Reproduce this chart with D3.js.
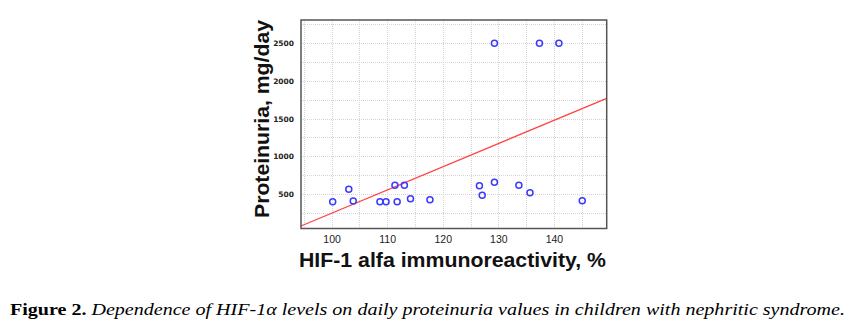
<!DOCTYPE html>
<html>
<head>
<meta charset="utf-8">
<script src="https://cdn.jsdelivr.net/npm/d3@7"></script>
<style>
  html, body { margin: 0; padding: 0; background: #fff; }
  svg { display: block; }
</style>
</head>
<body>
<svg id="chart" width="858" height="332"></svg>
<script>
// ---- data ----
const hifValues = [100.2, 103.1, 103.9, 108.7, 109.8, 111.4, 111.8, 113.1, 114.2, 117.7,
                   126.6, 127.1, 129.3, 133.7, 135.7, 145.1, 129.3, 137.4, 140.9];
const proteinuriaValues = [398, 563, 407, 398, 398, 616, 398, 616, 438, 425,
                           610, 483, 656, 616, 518, 411, 2500, 2500, 2500];
const fitLineX = [94.5, 149.5];
const fitLineY = [75, 1770];
const xTickLabels = [100, 110, 120, 130, 140];
const yTickLabels = [500, 1000, 1500, 2000, 2500];
const xGridValues = [95, 100, 105, 110, 115, 120, 125, 130, 135, 140, 145];
const yGridValues = [250, 500, 750, 1000, 1250, 1500, 1750, 2000, 2250, 2500, 2750];
const xAxisTitle = "HIF-1 alfa immunoreactivity, %";
const yAxisTitle = "Proteinuria, mg/day";
const captionBold = "Figure 2.";
const captionItalic = " Dependence of HIF-1α levels on daily proteinuria values in children with nephritic syndrome.";

// ---- layout ----
const svg = d3.select("#chart");
const L = 301, R = 606.7, T = 20, B = 228.5;
const x = d3.scaleLinear().domain([94.5, 149.5]).range([L, R]);
const y = d3.scaleLinear().domain([42, 2809]).range([B, T]);

// grid
const grid = svg.append("g").attr("stroke", "#d4d4d4").attr("stroke-width", 1).attr("stroke-dasharray", "1,1");
grid.selectAll("line.v").data(xGridValues).join("line")
  .attr("x1", d => Math.round(x(d)) + 0.5).attr("x2", d => Math.round(x(d)) + 0.5)
  .attr("y1", T).attr("y2", B);
grid.selectAll("line.h").data(yGridValues).join("line")
  .attr("y1", d => Math.round(y(d)) + 0.5).attr("y2", d => Math.round(y(d)) + 0.5)
  .attr("x1", L).attr("x2", R);

// regression line
svg.append("line")
  .attr("x1", x(fitLineX[0])).attr("y1", y(fitLineY[0]))
  .attr("x2", x(fitLineX[1])).attr("y2", y(fitLineY[1]))
  .attr("stroke", "#ff4444").attr("stroke-width", 1.3);

// points
svg.append("g").selectAll("circle").data(hifValues.map((h, i) => [h, proteinuriaValues[i]])).join("circle")
  .attr("cx", d => x(d[0])).attr("cy", d => y(d[1])).attr("r", 3)
  .attr("fill", "none").attr("stroke", "#3a3aff").attr("stroke-width", 1.5);

// frame
svg.append("rect").attr("x", L).attr("y", T).attr("width", R - L).attr("height", B - T)
  .attr("fill", "none").attr("stroke", "#555").attr("stroke-width", 1.5);

// axes (labels only, via d3 axes)
const xAxis = d3.axisBottom(x).tickValues(xTickLabels).tickSize(0).tickPadding(7).tickFormat(d3.format("d"));
const gx = svg.append("g").attr("transform", `translate(0,${B})`).call(xAxis);
gx.select(".domain").remove();
gx.selectAll("text").attr("font-family", "Arial, 'Liberation Sans', sans-serif").attr("font-size", 10.5).attr("fill", "#222");

const yAxis = d3.axisLeft(y).tickValues(yTickLabels).tickSize(0).tickPadding(7).tickFormat(d3.format("d"));
const gy = svg.append("g").attr("transform", `translate(${L},0)`).call(yAxis);
gy.select(".domain").remove();
gy.selectAll("text").attr("font-family", "'DejaVu Sans', Arial, sans-serif").attr("font-weight", "bold")
  .attr("font-size", 7.5).attr("fill", "#222");

// axis titles
svg.append("text").attr("x", 299).attr("y", 267)
  .attr("font-family", "Arial, 'Liberation Sans', sans-serif").attr("font-weight", "bold").attr("font-size", 20)
  .attr("textLength", 307).attr("lengthAdjust", "spacingAndGlyphs").attr("fill", "#111")
  .text(xAxisTitle);

svg.append("text").attr("transform", "translate(269,218) rotate(-90)")
  .attr("font-family", "Arial, 'Liberation Sans', sans-serif").attr("font-weight", "bold").attr("font-size", 21)
  .attr("textLength", 198).attr("lengthAdjust", "spacingAndGlyphs").attr("fill", "#111")
  .text(yAxisTitle);

// caption
const cap = svg.append("text").attr("x", 10).attr("y", 315)
  .attr("font-family", "'Liberation Serif', 'Times New Roman', serif").attr("font-size", 16).attr("fill", "#000")
  .attr("textLength", 835).attr("lengthAdjust", "spacingAndGlyphs");
cap.append("tspan").attr("font-weight", "bold").text(captionBold);
cap.append("tspan").attr("font-style", "italic").text(captionItalic);
</script>
</body>
</html>
